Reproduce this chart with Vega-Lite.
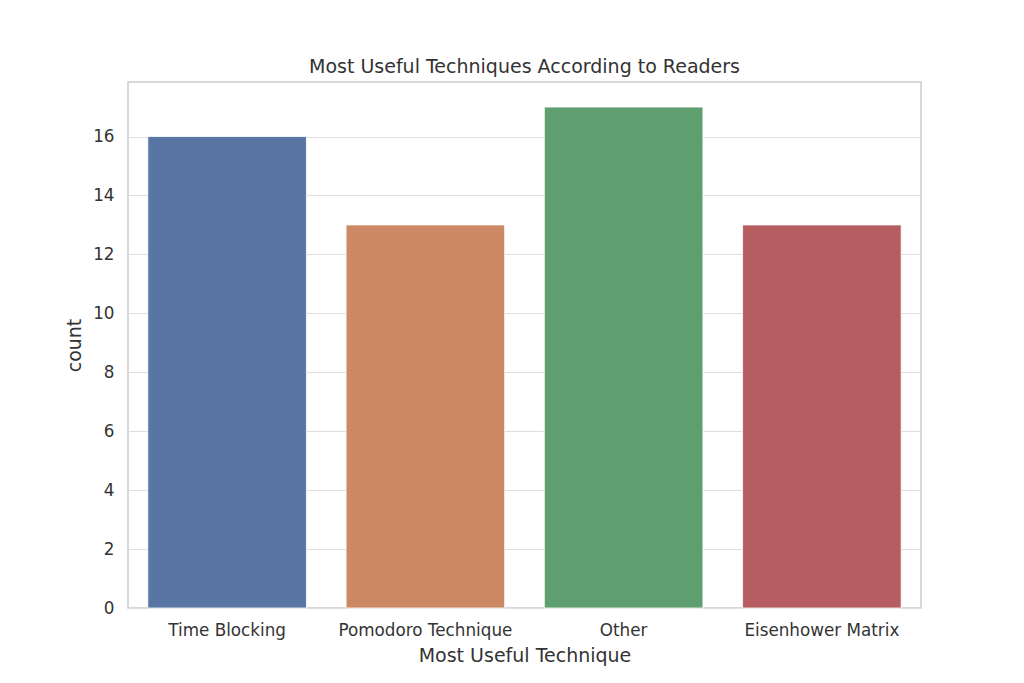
{
  "$schema": "https://vega.github.io/schema/vega-lite/v6.json",
  "width": 793,
  "height": 526,
  "autosize": {"type": "none"},
  "padding": {"left": 128, "top": 82, "right": 103, "bottom": 75},
  "background": "white",
  "title": {
    "text": "Most Useful Techniques According to Readers",
    "font": "DejaVu Sans",
    "fontSize": 19,
    "fontWeight": "normal",
    "color": "#333333",
    "offset": 5,
    "anchor": "middle"
  },
  "config": {
    "view": {"stroke": "#cccccc", "strokeWidth": 1.5},
    "axis": {
      "labelFont": "DejaVu Sans",
      "titleFont": "DejaVu Sans",
      "labelColor": "#333333",
      "titleColor": "#333333",
      "labelFontSize": 16.8,
      "titleFontSize": 19,
      "titleFontWeight": "normal",
      "domain": false,
      "ticks": false,
      "gridColor": "#dedede",
      "gridWidth": 1.2
    }
  },
  "data": {
    "values": [
      {"technique": "Time Blocking", "count": 16},
      {"technique": "Pomodoro Technique", "count": 13},
      {"technique": "Other", "count": 17},
      {"technique": "Eisenhower Matrix", "count": 13}
    ]
  },
  "mark": {"type": "bar", "stroke": "white", "strokeWidth": 0.8},
  "encoding": {
    "x": {
      "field": "technique",
      "type": "nominal",
      "sort": null,
      "title": "Most Useful Technique",
      "scale": {"paddingInner": 0.2, "paddingOuter": 0.1},
      "axis": {"labelAngle": 0, "grid": false, "labelPadding": 14, "titlePadding": 8}
    },
    "y": {
      "field": "count",
      "type": "quantitative",
      "title": "count",
      "scale": {"domain": [0, 17.85], "nice": false},
      "axis": {"values": [0, 2, 4, 6, 8, 10, 12, 14, 16], "grid": true, "labelPadding": 14, "titlePadding": 8}
    },
    "color": {
      "field": "technique",
      "type": "nominal",
      "sort": null,
      "legend": null,
      "scale": {
        "domain": ["Time Blocking", "Pomodoro Technique", "Other", "Eisenhower Matrix"],
        "range": ["#5975a4", "#cc8963", "#5f9e6e", "#b55d60"]
      }
    }
  }
}
